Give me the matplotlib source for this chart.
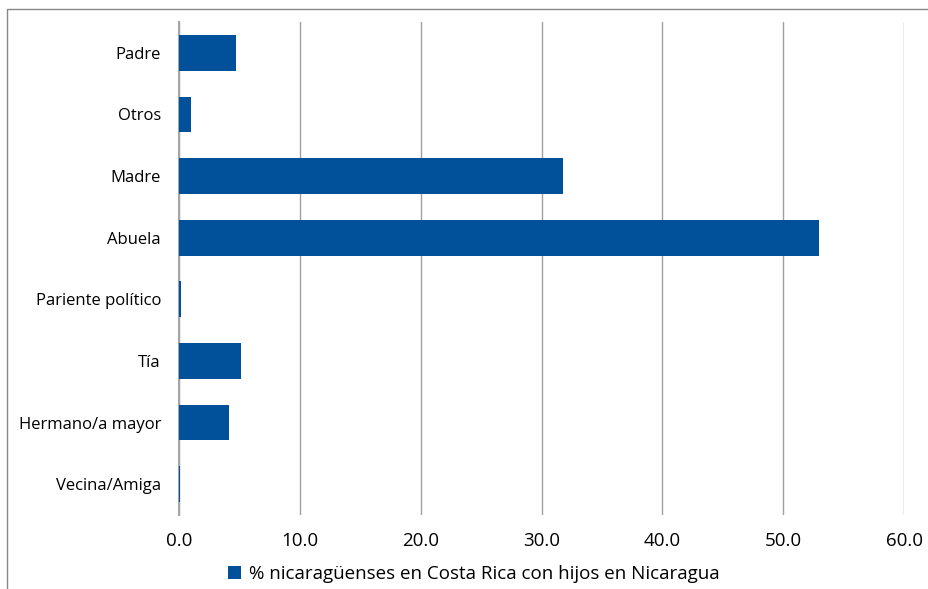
import matplotlib.pyplot as plt
from matplotlib.patches import Rectangle

# Categories top to bottom
categories = ["Padre", "Otros", "Madre", "Abuela", "Pariente político",
              "Tía", "Hermano/a mayor", "Vecina/Amiga"]
values = [4.7, 1.0, 31.8, 53.0, 0.15, 5.1, 4.1, 0.05]
xticks = [0, 10, 20, 30, 40, 50, 60]
legend_label = "% nicaragüenses en Costa Rica con hijos en Nicaragua"

plt.rcParams["font.family"] = ["Open Sans", "DejaVu Sans"]

fig = plt.figure(figsize=(9.29, 5.89), dpi=100)
ax = fig.add_axes([0.1927, 0.1256, 0.7804, 0.837])

ypos = list(range(len(categories)))
ax.barh(ypos, values, height=0.58, color="#00519A", label=legend_label,
        zorder=3)
ax.set_ylim(len(categories) - 0.5, -0.5)
ax.set_xlim(0, 60)
ax.set_yticks(ypos)
ax.set_yticklabels(categories, fontsize=12)
ax.set_xticks(xticks)
ax.set_xticklabels([f"{t:.1f}" for t in xticks], fontsize=13.5)
ax.tick_params(axis="y", length=0, pad=13)
ax.tick_params(axis="x", length=0, pad=12)

ax.grid(axis="x", color="#A0A0A0", linewidth=1.0, zorder=0)
for s in ["top", "right", "bottom"]:
    ax.spines[s].set_visible(False)
ax.spines["left"].set_color("#A6A6A6")
ax.spines["left"].set_linewidth(1.5)

leg = fig.legend(loc="center", bbox_to_anchor=(0.51, 0.026), frameon=False,
                 fontsize=13.5, handlelength=0.7, handleheight=0.7,
                 handletextpad=0.4)

# outer chart border
fig.patches.append(Rectangle((7 / 929, -0.1), 1.2, 1 - 9 / 589 + 0.1,
                             transform=fig.transFigure, fill=False,
                             edgecolor="#888888", linewidth=1.0))

fig.savefig("out.png", dpi=100)
